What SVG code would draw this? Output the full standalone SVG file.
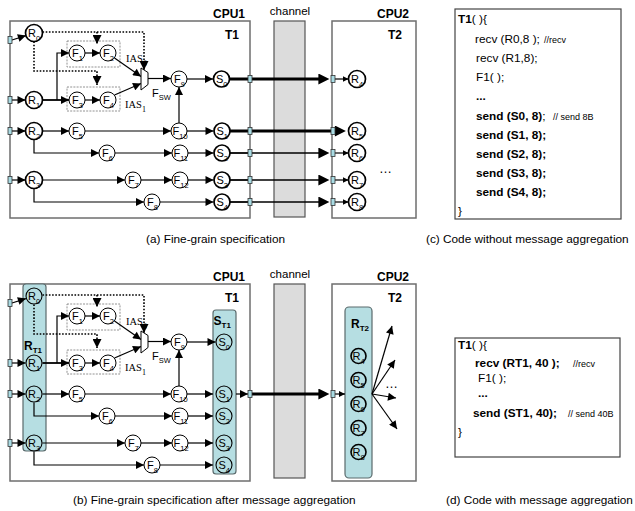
<svg xmlns="http://www.w3.org/2000/svg" width="635" height="511" viewBox="0 0 635 511">
<style>
  .box{fill:#fff;stroke:#6e6e6e;stroke-width:1.5}
  .chan{fill:#dcdcdc;stroke:#555;stroke-width:1.2}
  .code{fill:#fff;stroke:#444;stroke-width:1.2}
  .port{fill:#a9dbe3;stroke:#333;stroke-width:0.8}
  .grp{fill:#b6dee2;stroke:#5a6a6c;stroke-width:1.2}
  .n{fill:#fff;stroke:#000;stroke-width:1}
  .nb{fill:#fff;stroke:#000;stroke-width:1.7}
  .nt{fill:none;stroke:#000;stroke-width:1.1}
  .ntb{fill:none;stroke:#000;stroke-width:1.6}
  .mux{fill:#fff;stroke:#000;stroke-width:1}
  .e{fill:none;stroke:#000;stroke-width:1.2}
  .e15{fill:none;stroke:#000;stroke-width:1.5}
  .em{fill:none;stroke:#000;stroke-width:1.8}
  .eb{fill:none;stroke:#000;stroke-width:3}
  .dot{fill:none;stroke:#000;stroke-width:1.6;stroke-dasharray:1.6 1.6}
  .dbox{fill:none;stroke:#777;stroke-width:0.8;stroke-dasharray:2 1.2}
  text{font-family:"Liberation Sans",Arial,sans-serif;fill:#000}
  .lbl{font-size:11px}
  .sub{font-size:7.5px}
  .hd{font-size:12px;font-weight:bold}
  .ch{font-size:11.5px}
  .cap{font-size:11.8px}
  .cd{font-size:11.8px}
  .b{font-weight:bold}
  .cm{font-size:9px}
  .ias{font-family:"Liberation Serif","Times New Roman",serif;font-size:10.5px}
</style>
<defs>
  <marker id="ah" viewBox="0 0 10 10" refX="10" refY="5" markerWidth="9" markerHeight="8" orient="auto" markerUnits="userSpaceOnUse"><path d="M0,0L10,5L0,10z"/></marker>
  <marker id="ahS" viewBox="0 0 10 10" refX="10" refY="5" markerWidth="6" markerHeight="6" orient="auto" markerUnits="userSpaceOnUse"><path d="M0,0L10,5L0,10z"/></marker>
  <marker id="ahB" viewBox="0 0 10 10" refX="1" refY="5" markerWidth="13" markerHeight="11" orient="auto" markerUnits="userSpaceOnUse"><path d="M0,0L10,5L0,10z"/></marker>
  <marker id="ahD" viewBox="0 0 10 10" refX="10" refY="5" markerWidth="9" markerHeight="9" orient="auto" markerUnits="userSpaceOnUse"><path d="M0,0L10,5L0,10z"/></marker>
</defs>

<!-- ===================== (a) fine-grain specification ===================== -->
<g id="a-frame">
  <rect class="box" x="10" y="21" width="240" height="197"/>
  <rect class="chan" x="274" y="21" width="31" height="196"/>
  <rect class="box" x="332" y="21" width="84" height="197"/>
  <text class="hd" x="213" y="18">CPU1</text>
  <text class="hd" x="225" y="39">T1</text>
  <text class="ch" x="290" y="15" text-anchor="middle">channel</text>
  <text class="hd" x="409" y="18" text-anchor="end">CPU2</text>
  <text class="hd" x="388" y="39">T2</text>
  <rect class="dbox" x="67" y="41" width="53" height="26"/>
  <rect class="dbox" x="67" y="87" width="53" height="24"/>
</g>

<g id="a-edges">
  <path class="e" d="M12,40L25.9,35.6" marker-end="url(#ah)"/>
  <path class="e" d="M12,100H25.5" marker-end="url(#ah)"/>
  <path class="e" d="M12,131H25.5" marker-end="url(#ah)"/>
  <path class="e" d="M12,180H25.5" marker-end="url(#ah)"/>
  <path class="em" d="M42.5,100H69" marker-end="url(#ah)"/>
  <path class="e" d="M57,100V53H69" marker-end="url(#ah)"/>
  <path class="e" d="M85,53H100" marker-end="url(#ah)"/>
  <path class="e" d="M85,100H100" marker-end="url(#ah)"/>
  <path class="e" d="M114.5,58L141,76.5" marker-end="url(#ah)"/>
  <path class="e" d="M114.5,95L141,83.5" marker-end="url(#ah)"/>
  <path class="e" d="M148,78.5H171" marker-end="url(#ah)"/>
  <path class="e" d="M187,79H213" marker-end="url(#ah)"/>
  <path class="e" d="M179,123V87" marker-end="url(#ah)"/>
  <path class="e" d="M42.5,131H69" marker-end="url(#ah)"/>
  <path class="e" d="M85,131H171" marker-end="url(#ah)"/>
  <path class="e" d="M187,131H213.5" marker-end="url(#ah)"/>
  <path class="e" d="M34,139.5V153H99" marker-end="url(#ah)"/>
  <path class="e" d="M115,153H172" marker-end="url(#ah)"/>
  <path class="e" d="M188,153H213.5" marker-end="url(#ah)"/>
  <path class="e" d="M42.5,180H125" marker-end="url(#ah)"/>
  <path class="e" d="M141,180H172" marker-end="url(#ah)"/>
  <path class="e" d="M188,180H213.5" marker-end="url(#ah)"/>
  <path class="e" d="M34,188.5V202H144" marker-end="url(#ah)"/>
  <path class="e" d="M160,202H213.5" marker-end="url(#ah)"/>
  <!-- control (dotted) -->
  <path class="dot" d="M42.5,32H144V70" marker-end="url(#ahD)"/>
  <path class="dot" d="M97,32V44" marker-end="url(#ahD)"/>
  <path class="dot" d="M34,41.5V71H97V85" marker-end="url(#ahD)"/>
  <!-- channel crossings -->
  <path class="eb" d="M229,79H248"/>
  <path class="eb" d="M252,79H319.5" marker-end="url(#ahB)"/>
  <path class="e" d="M335,79H348.5" marker-end="url(#ahS)"/>
  <path class="eb" d="M230,131H248"/>
  <path class="eb" d="M252,131H336" marker-end="url(#ahB)"/>
  <path class="em" d="M230,153H248"/>
  <path class="e15" d="M252,153H319.5" marker-end="url(#ahB)"/>
  <path class="e" d="M335,153H348.5" marker-end="url(#ahS)"/>
  <path class="em" d="M230,180H248"/>
  <path class="e15" d="M252,180H319.5" marker-end="url(#ahB)"/>
  <path class="e" d="M335,180H348.5" marker-end="url(#ahS)"/>
  <path class="em" d="M230,202H248"/>
  <path class="e15" d="M252,202H319.5" marker-end="url(#ahB)"/>
  <path class="e" d="M335,202H348.5" marker-end="url(#ahS)"/>
</g>

<g id="a-mux"><polygon class="mux" points="141,68 148,72.5 148,84.5 141,90"/></g>
<text class="ias" x="126" y="62">IAS<tspan font-size="8" dy="4">0</tspan></text>
<text class="ias" x="125" y="108">IAS<tspan font-size="8" dy="4">1</tspan></text>
<text class="lbl" x="152" y="97">F<tspan class="sub" dy="3">SW</tspan></text>

<g id="a-R0"><circle class="nb" cx="34" cy="33" r="8.5"/><text class="lbl" x="28" y="37">R<tspan class="sub" dy="3.5">0</tspan></text></g>
<g id="a-R1"><circle class="nb" cx="34" cy="100" r="8.5"/><text class="lbl" x="28" y="104">R<tspan class="sub" dy="3.5">1</tspan></text></g>
<g id="a-R2"><circle class="nb" cx="34" cy="131" r="8.5"/><text class="lbl" x="28" y="135">R<tspan class="sub" dy="3.5">2</tspan></text></g>
<g id="a-R3"><circle class="nb" cx="34" cy="180" r="8.5"/><text class="lbl" x="28" y="184">R<tspan class="sub" dy="3.5">3</tspan></text></g>
<g id="a-F1"><circle class="n" cx="77" cy="53" r="8"/><text class="lbl" x="72" y="57">F<tspan class="sub" dy="3.5">1</tspan></text></g>
<g id="a-F2"><circle class="n" cx="108" cy="53" r="8"/><text class="lbl" x="103" y="57">F<tspan class="sub" dy="3.5">2</tspan></text></g>
<g id="a-F3"><circle class="n" cx="77" cy="100" r="8"/><text class="lbl" x="72" y="104">F<tspan class="sub" dy="3.5">3</tspan></text></g>
<g id="a-F4"><circle class="n" cx="108" cy="100" r="8"/><text class="lbl" x="103" y="104">F<tspan class="sub" dy="3.5">4</tspan></text></g>
<g id="a-F5"><circle class="n" cx="77" cy="131" r="8"/><text class="lbl" x="72" y="135">F<tspan class="sub" dy="3.5">5</tspan></text></g>
<g id="a-F6"><circle class="n" cx="107" cy="153" r="8"/><text class="lbl" x="102" y="157">F<tspan class="sub" dy="3.5">6</tspan></text></g>
<g id="a-F7"><circle class="n" cx="133" cy="180" r="8"/><text class="lbl" x="128" y="184">F<tspan class="sub" dy="3.5">7</tspan></text></g>
<g id="a-F8"><circle class="n" cx="152" cy="202" r="8"/><text class="lbl" x="147" y="206">F<tspan class="sub" dy="3.5">8</tspan></text></g>
<g id="a-F9"><circle class="n" cx="179" cy="79" r="8"/><text class="lbl" x="174" y="83">F<tspan class="sub" dy="3.5">9</tspan></text></g>
<g id="a-F10"><circle class="n" cx="179" cy="131" r="8"/><text class="lbl" x="172.5" y="135">F<tspan class="sub" dy="3.5">10</tspan></text></g>
<g id="a-F11"><circle class="n" cx="180" cy="153" r="8"/><text class="lbl" x="173.5" y="157">F<tspan class="sub" dy="3.5">11</tspan></text></g>
<g id="a-F12"><circle class="n" cx="180" cy="180" r="8"/><text class="lbl" x="173.5" y="184">F<tspan class="sub" dy="3.5">12</tspan></text></g>
<g id="a-S0"><circle class="nb" cx="221.5" cy="79" r="8"/><text class="lbl" x="216" y="83">S<tspan class="sub" dy="3.5">0</tspan></text></g>
<g id="a-S1"><circle class="nb" cx="222" cy="131" r="8"/><text class="lbl" x="216.5" y="135">S<tspan class="sub" dy="3.5">1</tspan></text></g>
<g id="a-S2"><circle class="nb" cx="222" cy="153" r="8"/><text class="lbl" x="216.5" y="157">S<tspan class="sub" dy="3.5">2</tspan></text></g>
<g id="a-S3"><circle class="nb" cx="222" cy="180" r="8"/><text class="lbl" x="216.5" y="184">S<tspan class="sub" dy="3.5">3</tspan></text></g>
<g id="a-S4"><circle class="nb" cx="222" cy="202" r="8"/><text class="lbl" x="216.5" y="206">S<tspan class="sub" dy="3.5">4</tspan></text></g>
<g id="a-R4"><circle class="nb" cx="357" cy="79" r="8.5"/><text class="lbl" x="351" y="83">R<tspan class="sub" dy="3.5">4</tspan></text></g>
<g id="a-R5"><circle class="nb" cx="357" cy="131" r="8.5"/><text class="lbl" x="351" y="135">R<tspan class="sub" dy="3.5">5</tspan></text></g>
<g id="a-R6"><circle class="nb" cx="357" cy="153" r="8.5"/><text class="lbl" x="351" y="157">R<tspan class="sub" dy="3.5">6</tspan></text></g>
<g id="a-R7"><circle class="nb" cx="357" cy="180" r="8.5"/><text class="lbl" x="351" y="184">R<tspan class="sub" dy="3.5">7</tspan></text></g>
<g id="a-R8"><circle class="nb" cx="357" cy="202" r="8.5"/><text class="lbl" x="351" y="206">R<tspan class="sub" dy="3.5">8</tspan></text></g>
<text x="379" y="173" font-size="13">…</text>

<g id="a-ports">
  <rect class="port" x="8" y="36.5" width="4" height="7"/>
  <rect class="port" x="8" y="96.5" width="4" height="7"/>
  <rect class="port" x="8" y="127.5" width="4" height="7"/>
  <rect class="port" x="8" y="176.5" width="4" height="7"/>
  <rect class="port" x="248" y="75.5" width="4" height="7"/>
  <rect class="port" x="248" y="127.5" width="4" height="7"/>
  <rect class="port" x="248" y="149.5" width="4" height="7"/>
  <rect class="port" x="248" y="176.5" width="4" height="7"/>
  <rect class="port" x="248" y="198.5" width="4" height="7"/>
  <rect class="port" x="331" y="75.5" width="4" height="7"/>
  <rect class="port" x="331" y="127.5" width="4" height="7"/>
  <rect class="port" x="331" y="149.5" width="4" height="7"/>
  <rect class="port" x="331" y="176.5" width="4" height="7"/>
  <rect class="port" x="331" y="198.5" width="4" height="7"/>
</g>
<text class="cap" x="146" y="243">(a) Fine-grain specification</text>

<!-- ===================== (c) code without aggregation ===================== -->
<g id="code-c">
  <rect class="code" x="455" y="9" width="166" height="210"/>
  <text class="cd" x="458" y="23"><tspan class="b">T1</tspan>( ){</text>
  <text class="cd" x="475" y="43">recv (R0,8 );</text>
  <text class="cm" x="544" y="43">//recv</text>
  <text class="cd" x="476" y="62">recv (R1,8);</text>
  <text class="cd" x="476" y="81">F1( );</text>
  <text class="cd b" x="476" y="100">...</text>
  <text class="cd" x="476" y="120"><tspan class="b">send (S0, 8)</tspan>;</text>
  <text class="cm" x="553" y="120">// send 8B</text>
  <text class="cd b" x="476" y="139">send (S1, 8);</text>
  <text class="cd b" x="476" y="158">send (S2, 8);</text>
  <text class="cd b" x="476" y="177">send (S3, 8);</text>
  <text class="cd b" x="476" y="196">send (S4, 8);</text>
  <text class="cd" x="458" y="215">}</text>
</g>
<text class="cap" x="426" y="243">(c) Code without message aggregation</text>

<!-- ===================== (b) after message aggregation ===================== -->
<g id="b-frame">
  <rect class="box" x="10" y="284" width="240" height="197"/>
  <rect class="chan" x="274" y="284" width="31" height="194"/>
  <rect class="box" x="332" y="284" width="84" height="197"/>
  <text class="hd" x="213" y="281">CPU1</text>
  <text class="hd" x="225" y="302">T1</text>
  <text class="ch" x="290" y="278" text-anchor="middle">channel</text>
  <text class="hd" x="409" y="281" text-anchor="end">CPU2</text>
  <text class="hd" x="388" y="302">T2</text>
  <rect class="dbox" x="67" y="304" width="53" height="26"/>
  <rect class="dbox" x="67" y="350" width="53" height="24"/>
</g>

<g id="b-RT1"><rect class="grp" x="23" y="284" width="23" height="167" rx="3"/></g>
<g id="b-ST1"><rect class="grp" x="213" y="310" width="23" height="164" rx="3"/></g>
<g id="b-RT2"><rect class="grp" x="345" y="307" width="27" height="171" rx="4"/></g>

<g id="b-edges">
  <path class="e" d="M12,303L25.9,298.6" marker-end="url(#ah)"/>
  <path class="e" d="M12,363H25.5" marker-end="url(#ah)"/>
  <path class="e" d="M12,394H25.5" marker-end="url(#ah)"/>
  <path class="e" d="M12,443H25.5" marker-end="url(#ah)"/>
  <g transform="translate(0,263)">
    <path class="em" d="M42.5,100H69" marker-end="url(#ah)"/>
    <path class="e" d="M57,100V53H69" marker-end="url(#ah)"/>
    <path class="e" d="M85,53H100" marker-end="url(#ah)"/>
    <path class="e" d="M85,100H100" marker-end="url(#ah)"/>
    <path class="e" d="M114.5,58L141,76.5" marker-end="url(#ah)"/>
    <path class="e" d="M114.5,95L141,83.5" marker-end="url(#ah)"/>
    <path class="e" d="M148,78.5H171" marker-end="url(#ah)"/>
    <path class="e" d="M179,123V87" marker-end="url(#ah)"/>
    <path class="e" d="M42.5,131H69" marker-end="url(#ah)"/>
    <path class="e" d="M85,131H171" marker-end="url(#ah)"/>
    <path class="e" d="M34,139.5V153H99" marker-end="url(#ah)"/>
    <path class="e" d="M115,153H172" marker-end="url(#ah)"/>
    <path class="e" d="M42.5,180H125" marker-end="url(#ah)"/>
    <path class="e" d="M141,180H172" marker-end="url(#ah)"/>
    <path class="e" d="M34,188.5V202H144" marker-end="url(#ah)"/>
    <path class="dot" d="M42.5,32H144V70" marker-end="url(#ahD)"/>
    <path class="dot" d="M97,32V44" marker-end="url(#ahD)"/>
    <path class="dot" d="M34,41.5V71H97V85" marker-end="url(#ahD)"/>
  </g>
  <path class="e" d="M187,342H215.5" marker-end="url(#ah)"/>
  <path class="e" d="M187,394H213" marker-end="url(#ah)"/>
  <path class="e" d="M188,416H213" marker-end="url(#ah)"/>
  <path class="e" d="M188,443H213" marker-end="url(#ah)"/>
  <path class="e" d="M160,465H213" marker-end="url(#ah)"/>
  <path class="e" d="M236,394H248" marker-end="url(#ah)"/>
  <path class="eb" d="M252,394H319.5" marker-end="url(#ahB)"/>
  <path class="e" d="M335,394H345" marker-end="url(#ahS)"/>
  <path class="e" d="M372,394L392,326" marker-end="url(#ah)"/>
  <path class="e" d="M372,394L395,360" marker-end="url(#ah)"/>
  <path class="e" d="M372,394L396,398" marker-end="url(#ah)"/>
  <path class="e" d="M372,394L397,429" marker-end="url(#ah)"/>
</g>

<g id="b-mux"><polygon class="mux" points="141,331 148,335.5 148,347.5 141,353"/></g>
<text class="ias" x="126" y="325">IAS<tspan font-size="8" dy="4">0</tspan></text>
<text class="ias" x="125" y="371">IAS<tspan font-size="8" dy="4">1</tspan></text>
<text class="lbl" x="152" y="360">F<tspan class="sub" dy="3">SW</tspan></text>

<text class="b" x="24" y="350" font-size="12">R<tspan font-size="8" dy="3">T1</tspan></text>
<text class="b" x="213.5" y="325" font-size="12">S<tspan font-size="8" dy="3">T1</tspan></text>
<text class="b" x="351" y="328" font-size="12">R<tspan font-size="8" dy="3">T2</tspan></text>

<g id="b-R0"><circle class="nt" cx="34" cy="296" r="8"/><text class="lbl" x="28" y="300">R<tspan class="sub" dy="3.5">0</tspan></text></g>
<g id="b-R1"><circle class="nt" cx="34" cy="363" r="8"/><text class="lbl" x="28" y="367">R<tspan class="sub" dy="3.5">1</tspan></text></g>
<g id="b-R2"><circle class="nt" cx="34" cy="394" r="8"/><text class="lbl" x="28" y="398">R<tspan class="sub" dy="3.5">2</tspan></text></g>
<g id="b-R3"><circle class="nt" cx="34" cy="443" r="8"/><text class="lbl" x="28" y="447">R<tspan class="sub" dy="3.5">3</tspan></text></g>
<g id="b-F1"><circle class="n" cx="77" cy="316" r="8"/><text class="lbl" x="72" y="320">F<tspan class="sub" dy="3.5">1</tspan></text></g>
<g id="b-F2"><circle class="n" cx="108" cy="316" r="8"/><text class="lbl" x="103" y="320">F<tspan class="sub" dy="3.5">2</tspan></text></g>
<g id="b-F3"><circle class="n" cx="77" cy="363" r="8"/><text class="lbl" x="72" y="367">F<tspan class="sub" dy="3.5">3</tspan></text></g>
<g id="b-F4"><circle class="n" cx="108" cy="363" r="8"/><text class="lbl" x="103" y="367">F<tspan class="sub" dy="3.5">4</tspan></text></g>
<g id="b-F5"><circle class="n" cx="77" cy="394" r="8"/><text class="lbl" x="72" y="398">F<tspan class="sub" dy="3.5">5</tspan></text></g>
<g id="b-F6"><circle class="n" cx="107" cy="416" r="8"/><text class="lbl" x="102" y="420">F<tspan class="sub" dy="3.5">6</tspan></text></g>
<g id="b-F7"><circle class="n" cx="133" cy="443" r="8"/><text class="lbl" x="128" y="447">F<tspan class="sub" dy="3.5">7</tspan></text></g>
<g id="b-F8"><circle class="n" cx="152" cy="465" r="8"/><text class="lbl" x="147" y="469">F<tspan class="sub" dy="3.5">8</tspan></text></g>
<g id="b-F9"><circle class="n" cx="179" cy="342" r="8"/><text class="lbl" x="174" y="346">F<tspan class="sub" dy="3.5">9</tspan></text></g>
<g id="b-F10"><circle class="n" cx="179" cy="394" r="8"/><text class="lbl" x="172.5" y="398">F<tspan class="sub" dy="3.5">10</tspan></text></g>
<g id="b-F11"><circle class="n" cx="180" cy="416" r="8"/><text class="lbl" x="173.5" y="420">F<tspan class="sub" dy="3.5">11</tspan></text></g>
<g id="b-F12"><circle class="n" cx="180" cy="443" r="8"/><text class="lbl" x="173.5" y="447">F<tspan class="sub" dy="3.5">12</tspan></text></g>
<g id="b-S0"><circle class="nt" cx="224" cy="342" r="8"/><text class="lbl" x="218.5" y="346">S<tspan class="sub" dy="3.5">0</tspan></text></g>
<g id="b-S1"><circle class="nt" cx="224" cy="394" r="8"/><text class="lbl" x="218.5" y="398">S<tspan class="sub" dy="3.5">1</tspan></text></g>
<g id="b-S2"><circle class="nt" cx="224" cy="416" r="8"/><text class="lbl" x="218.5" y="420">S<tspan class="sub" dy="3.5">2</tspan></text></g>
<g id="b-S3"><circle class="nt" cx="224" cy="443" r="8"/><text class="lbl" x="218.5" y="447">S<tspan class="sub" dy="3.5">3</tspan></text></g>
<g id="b-S4"><circle class="nt" cx="224" cy="465" r="8"/><text class="lbl" x="218.5" y="469">S<tspan class="sub" dy="3.5">4</tspan></text></g>
<g id="b-R4"><circle class="ntb" cx="358.5" cy="356" r="7.5"/><text class="lbl" x="352.5" y="360">R<tspan class="sub" dy="3.5">4</tspan></text></g>
<g id="b-R5"><circle class="ntb" cx="358.5" cy="380" r="7.5"/><text class="lbl" x="352.5" y="384">R<tspan class="sub" dy="3.5">5</tspan></text></g>
<g id="b-R6"><circle class="ntb" cx="358.5" cy="404" r="7.5"/><text class="lbl" x="352.5" y="408">R<tspan class="sub" dy="3.5">6</tspan></text></g>
<g id="b-R7"><circle class="ntb" cx="358.5" cy="428" r="7.5"/><text class="lbl" x="352.5" y="432">R<tspan class="sub" dy="3.5">7</tspan></text></g>
<g id="b-R8"><circle class="ntb" cx="358.5" cy="452" r="7.5"/><text class="lbl" x="352.5" y="456">R<tspan class="sub" dy="3.5">8</tspan></text></g>
<text x="385" y="388" font-size="13">…</text>

<g id="b-ports">
  <rect class="port" x="8" y="299.5" width="4" height="7"/>
  <rect class="port" x="8" y="359.5" width="4" height="7"/>
  <rect class="port" x="8" y="390.5" width="4" height="7"/>
  <rect class="port" x="8" y="439.5" width="4" height="7"/>
  <rect class="port" x="248" y="390.5" width="4" height="7"/>
  <rect class="port" x="331" y="390.5" width="4" height="7"/>
</g>
<text class="cap" x="73" y="504">(b) Fine-grain specification after message aggregation</text>

<!-- ===================== (d) code with aggregation ===================== -->
<g id="code-d">
  <rect class="code" x="455" y="338" width="165" height="119"/>
  <text class="cd" x="458" y="349"><tspan class="b">T1</tspan>( ){</text>
  <text class="cd b" x="475" y="367">recv (RT1, 40 );</text>
  <text class="cm" x="573" y="367">//recv</text>
  <text class="cd" x="478" y="382">F1( );</text>
  <text class="cd b" x="478" y="397">...</text>
  <text class="cd b" x="473" y="417">send (ST1, 40);</text>
  <text class="cm" x="568" y="417">// send 40B</text>
  <text class="cd" x="458" y="436">}</text>
</g>
<text class="cap" x="446" y="504">(d) Code with message aggregation</text>
</svg>
